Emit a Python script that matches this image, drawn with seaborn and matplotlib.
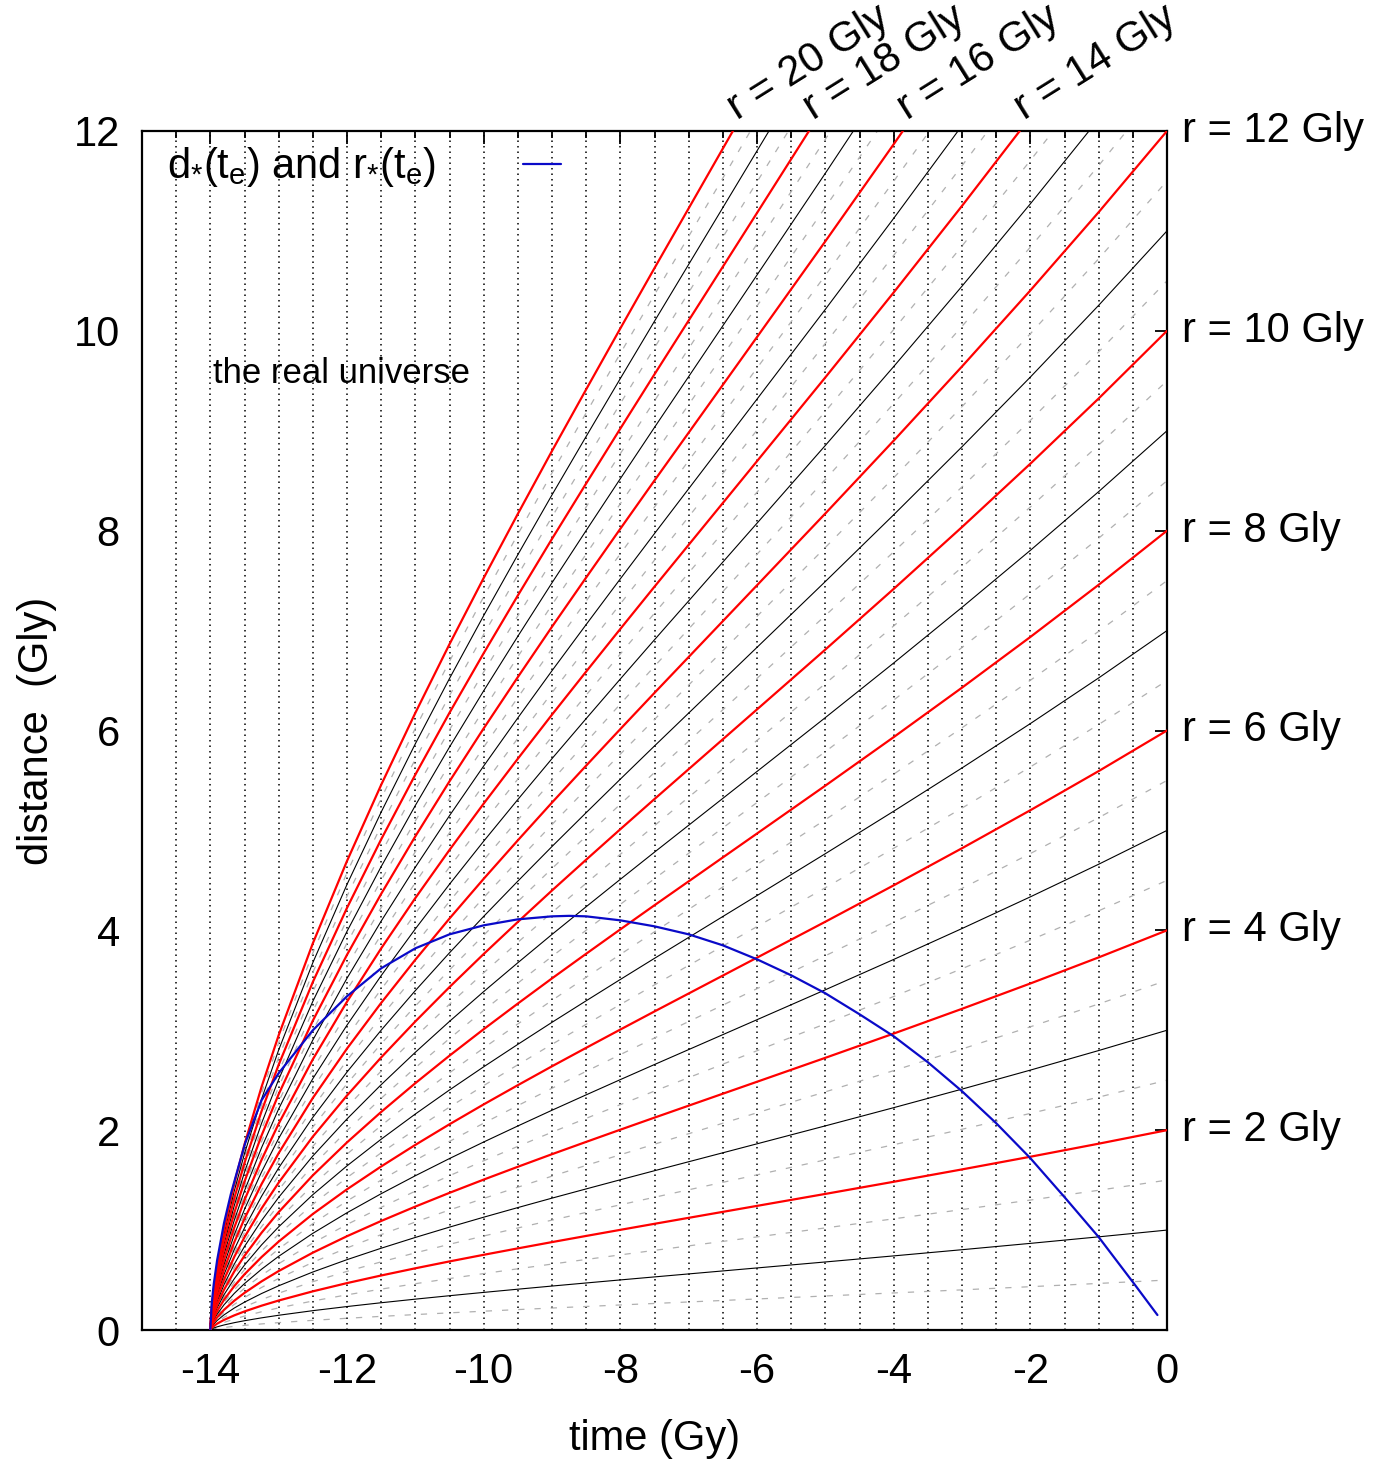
import numpy as np
import pandas as pd
import matplotlib
matplotlib.use('Agg')
import matplotlib.pyplot as plt
import matplotlib.transforms as mtransforms
import seaborn as sns
from matplotlib.ticker import MultipleLocator

# time (Gy, 0 = today) and the scale factor a(t)
t_grid = [-14.0, -13.99, -13.98, -13.95, -13.9, -13.8, -13.65, -13.5, -13.25,
          -13.0, -12.5, -12.0, -11.5, -11.0, -10.5, -10.0, -9.5, -9.0, -8.5,
          -8.0, -7.5, -7.0, -6.0, -5.0, -4.0, -3.0, -2.0, -1.0, 0.0]
scale = [0.0, 0.0068, 0.0109, 0.0200, 0.0318, 0.0504, 0.0732, 0.0929, 0.1217,
         0.1475, 0.1935, 0.2347, 0.2728, 0.3088, 0.3432, 0.3763, 0.4084, 0.4399,
         0.4707, 0.5012, 0.5314, 0.5613, 0.6211, 0.6810, 0.7417, 0.8036, 0.8670,
         0.9323, 1.0]

# comoving distances of the world lines (Gly)
r_red = [2, 4, 6, 8, 10, 12, 14, 16, 18, 20]
r_black = [1, 3, 5, 7, 9, 11, 13, 15, 17, 19]
r_grey = [0.5, 1.5, 2.5, 3.5, 4.5, 5.5, 6.5, 7.5, 8.5, 9.5,
          10.5, 11.5, 12.5, 13.5, 14.5, 15.5, 16.5, 17.5, 18.5, 19.5]

# past light cone d*(te), blue curve
cone_t = [-14.0, -13.98, -13.95, -13.9, -13.8, -13.7, -13.59, -13.49, -13.25,
          -13.0, -12.5, -12.0, -11.5, -11.0, -10.5, -10.0, -9.5, -9.0, -8.75,
          -8.5, -8.0, -7.5, -7.0, -6.5, -6.0, -5.5, -5.0, -4.5, -4.0, -3.5,
          -3.0, -2.5, -2.0, -1.5, -1.0, -0.5, -0.14]
cone_d = [0.0, 0.26, 0.46, 0.70, 1.07, 1.36, 1.63, 1.87, 2.30,
          2.57, 3.00, 3.34, 3.62, 3.82, 3.96, 4.05, 4.11, 4.14, 4.145,
          4.14, 4.10, 4.04, 3.96, 3.85, 3.71, 3.55, 3.37, 3.16, 2.94, 2.68,
          2.39, 2.07, 1.72, 1.33, 0.93, 0.48, 0.15]

right_r = [2, 4, 6, 8, 10, 12]
top_r = [20, 18, 16, 14]


def worldlines(rs):
    n = len(t_grid)
    return pd.DataFrame({
        't': np.tile(t_grid, len(rs)),
        'd': np.repeat(rs, n) * np.tile(scale, len(rs)),
        'r': np.repeat(rs, n),
    })


sns.set_style('white')
plt.rcParams['font.family'] = ['Liberation Sans', 'DejaVu Sans']
plt.rcParams['mathtext.fontset'] = 'custom'
plt.rcParams['mathtext.rm'] = 'Liberation Sans'
plt.rcParams['mathtext.it'] = 'Liberation Sans:italic'
plt.rcParams['axes.unicode_minus'] = False
for key in ['text.color', 'axes.labelcolor', 'xtick.color', 'ytick.color',
            'axes.edgecolor']:
    plt.rcParams[key] = 'black'

FS = 30
fig = plt.figure(figsize=(13.84, 14.63), dpi=100)
ax = fig.add_axes([142 / 1384, 1 - 1330 / 1463, 1025 / 1384, 1199 / 1463])

# dotted vertical grid every 0.5 Gy
for x in np.arange(-14.5, 0, 0.5):
    ax.axvline(x, color='black', lw=1.1, ls=(0, (1, 2.6)), zorder=1)

sns.lineplot(data=worldlines(r_grey), x='t', y='d', units='r', estimator=None,
             sort=False, color='#b0b0b0', lw=0.9, linestyle=(0, (5, 8)),
             legend=False, ax=ax, zorder=2)
sns.lineplot(data=worldlines(r_black), x='t', y='d', units='r', estimator=None,
             sort=False, color='black', lw=0.8, legend=False, ax=ax, zorder=3)
sns.lineplot(data=worldlines(r_red), x='t', y='d', units='r', estimator=None,
             sort=False, color='#ff0000', lw=1.6, legend=False, ax=ax, zorder=4)
sns.lineplot(x=cone_t, y=cone_d, sort=False, color='#0a0ac8', lw=1.6, ax=ax,
             zorder=5, label=r'd$_{*}$(t$_{\mathrm{e}}$) and r$_{*}$(t$_{\mathrm{e}}$)')

ax.set_xlim(-15, 0)
ax.set_ylim(0, 12)
ax.xaxis.set_major_locator(MultipleLocator(2))
ax.xaxis.set_minor_locator(MultipleLocator(0.5))
ax.yaxis.set_major_locator(MultipleLocator(2))
ax.tick_params(which='both', direction='in', top=True, right=True,
               width=1.3, labelsize=FS)
ax.tick_params(which='major', length=9, pad=16)
ax.tick_params(which='minor', length=5)
ax.set_xticks(range(-14, 1, 2))
for s in ax.spines.values():
    s.set_linewidth(1.6)

ax.set_xlabel('time (Gy)', fontsize=FS, labelpad=19)
ax.set_ylabel('distance  (Gly)', fontsize=FS, labelpad=12)

leg = ax.legend(loc='upper left', bbox_to_anchor=(0.016, 0.995), frameon=False,
                markerfirst=False, handlelength=0.9, handletextpad=2.1,
                borderpad=0.2, borderaxespad=0, fontsize=FS)

ax.text(-13.96, 9.57, 'the real universe', fontsize=25, ha='left', va='center')

# labels of the world lines on the right
trans = mtransforms.blended_transform_factory(ax.transAxes, ax.transData)
for r in right_r:
    ax.text(1.0 + 15 / 1025, r, f'r = {r} Gly', transform=trans,
            fontsize=FS, ha='left', va='center')

# labels where the world lines leave the top
for r in top_r:
    t_exit = np.interp(12.0 / r, scale, t_grid)
    ax.annotate(f'r = {r} Gly', xy=(t_exit, 12), xytext=(3, 8),
                textcoords='offset points', rotation=32, rotation_mode='anchor',
                ha='left', va='baseline', fontsize=FS, annotation_clip=False)

fig.savefig('out.png', dpi=100)
